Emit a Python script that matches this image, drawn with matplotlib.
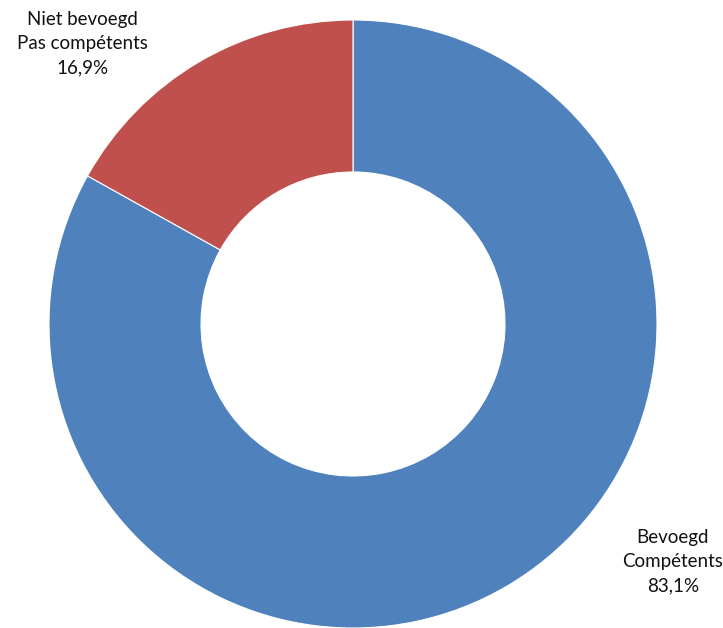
import matplotlib.pyplot as plt

# Aandeel bevoegde leerkrachten
labels = ['Bevoegd\nCompétents', 'Niet bevoegd\nPas compétents']
values = [83.1, 16.9]
colors = ['#4F81BD', '#C0504D']

fig = plt.figure(figsize=(7.23, 6.28), dpi=100)
ax = fig.add_axes([0, 0, 1, 1])

ax.pie(values, colors=colors, startangle=90, counterclock=False,
       center=(353, 304), radius=304,
       wedgeprops=dict(width=152, edgecolor='white', linewidth=0.8))

# pie() zet zijn eigen limieten, dus achteraf overschrijven
ax.set_xlim(0, 723)
ax.set_ylim(0, 628)
ax.set_aspect('equal')
ax.axis('off')

def fmt(v):
    return f'{v:.1f}%'.replace('.', ',')

ax.text(673, 66, labels[0] + '\n' + fmt(values[0]), ha='center', va='center',
        fontsize=13.5, family='Lato', linespacing=1.5, color='#111111')
ax.text(82, 584, labels[1] + '\n' + fmt(values[1]), ha='center', va='center',
        fontsize=13.5, family='Lato', linespacing=1.5, color='#111111')

fig.savefig('out.png', dpi=100)
